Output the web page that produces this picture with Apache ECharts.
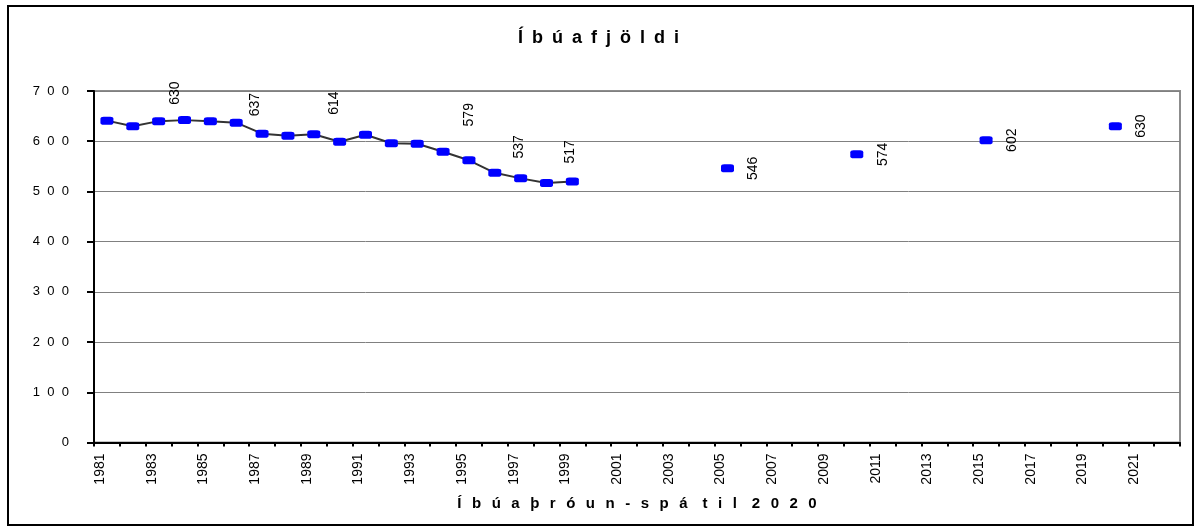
<!DOCTYPE html>
<html>
<head>
<meta charset="utf-8">
<script src="https://cdn.jsdelivr.net/npm/echarts@6/dist/echarts.min.js"></script>
<style>
html,body{margin:0;padding:0;background:#fff;}
#chart{width:1197px;height:528px;}
</style>
</head>
<body>
<div id="chart"></div>
<script>
// ---- data ----
const chartTitle = 'Íbúafjöldi';
const xAxisTitle = 'Íbúaþróun-spá til 2020';
const years = ['1981','1982','1983','1984','1985','1986','1987','1988','1989','1990',
               '1991','1992','1993','1994','1995','1996','1997','1998','1999','2000',
               '2001','2002','2003','2004','2005','2006','2007','2008','2009','2010',
               '2011','2012','2013','2014','2015','2016','2017','2018','2019','2020',
               '2021','2022'];
const population = [641,630,640,642,640,637,615,611,614,599,
                    613,596,595,579,562,537,526,517,520,null,
                    null,null,null,null,546,null,null,null,null,574,
                    null,null,null,null,602,null,null,null,null,630,
                    null,null];
const labelledYears = ['1982','1986','1989','1994','1996','1998','2005','2010','2015','2020'];
const yMin = 0, yMax = 700, yStep = 100;

// ---- layout (screen offsets of the rotated value labels, px: [dx, dy]) ----
const labelShift = {
  '1982':[42,-33], '1986':[19,-18], '1989':[20,-31], '1994':[26,-37],
  '1996':[24.5,-26], '1998':[23.5,-31],
  '2005':[26,0], '2010':[26,0], '2015':[26,0], '2020':[26,0]
};

const FONT = '"Liberation Sans", Arial, sans-serif';
function spaced(str, gap, wordGap) {
  return str.split(' ').map(w => Array.from(w).join(gap)).join(wordGap);
}

const seriesData = population.map((v, i) => {
  const y = years[i];
  if (v == null || labelledYears.indexOf(y) < 0) return v;
  const s = labelShift[y] || [0, 0];
  // label is rotated 90deg, offset vector is rotated with it: local [ox, oy] -> screen [oy, -ox]
  return { value: v, label: { show: true, offset: [-s[1], s[0]] } };
});

const chart = echarts.init(document.getElementById('chart'), null, { renderer: 'canvas' });
chart.setOption({
  animation: false,
  backgroundColor: '#ffffff',
  title: {
    text: spaced(chartTitle, '\u2002', '\u2002\u2002'),
    left: 'center',
    top: 24,
    textStyle: { fontFamily: FONT, fontSize: 18, fontWeight: 'bold', color: '#000' }
  },
  graphic: [{
    type: 'rect', silent: true, z: -10,
    shape: { x: 8, y: 6, width: 1185, height: 519 },
    style: { fill: 'none', stroke: '#000', lineWidth: 2 }
  }],
  grid: {
    left: 94, right: 17, top: 91, bottom: 85.5,
    show: true, borderColor: '#8c8c8c', borderWidth: 2, backgroundColor: 'transparent'
  },
  xAxis: {
    type: 'category',
    data: years,
    boundaryGap: true,
    name: spaced(xAxisTitle, '\u2002\u2009', '\u2002\u2002'),
    nameLocation: 'middle',
    nameGap: 61,
    nameTextStyle: { fontFamily: FONT, fontSize: 15, fontWeight: 'bold', color: '#000', verticalAlign: 'middle' },
    axisLine: { show: true, lineStyle: { color: '#000', width: 2 } },
    axisTick: { show: true, interval: 0, length: 4, lineStyle: { color: '#000', width: 2 } },
    axisLabel: {
      interval: 1, rotate: 90, margin: 11,
      verticalAlign: 'bottom',
      fontFamily: FONT, fontSize: 14, color: '#000'
    },
    splitLine: { show: false }
  },
  yAxis: {
    type: 'value',
    min: yMin, max: yMax, interval: yStep,
    axisLine: { show: true, lineStyle: { color: '#000', width: 2 } },
    axisTick: { show: true, length: 7, lineStyle: { color: '#000', width: 2 } },
    axisLabel: {
      margin: 25, fontFamily: FONT, fontSize: 13, color: '#000',
      formatter: v => String(v).split('').join('  ')
    },
    splitLine: { show: true, lineStyle: { color: '#808080', width: 1 } }
  },
  series: [{
    type: 'line',
    data: seriesData,
    connectNulls: false,
    showAllSymbol: true,
    symbol: 'roundRect',
    symbolSize: [13, 8],
    itemStyle: { color: '#0000ff' },
    lineStyle: { color: '#333333', width: 2 },
    label: {
      show: false, position: 'inside', rotate: 90,
      align: 'center', verticalAlign: 'middle',
      fontFamily: FONT, fontSize: 14, color: '#000'
    },
    emphasis: { disabled: true },
    z: 5
  }]
});
</script>
</body>
</html>
